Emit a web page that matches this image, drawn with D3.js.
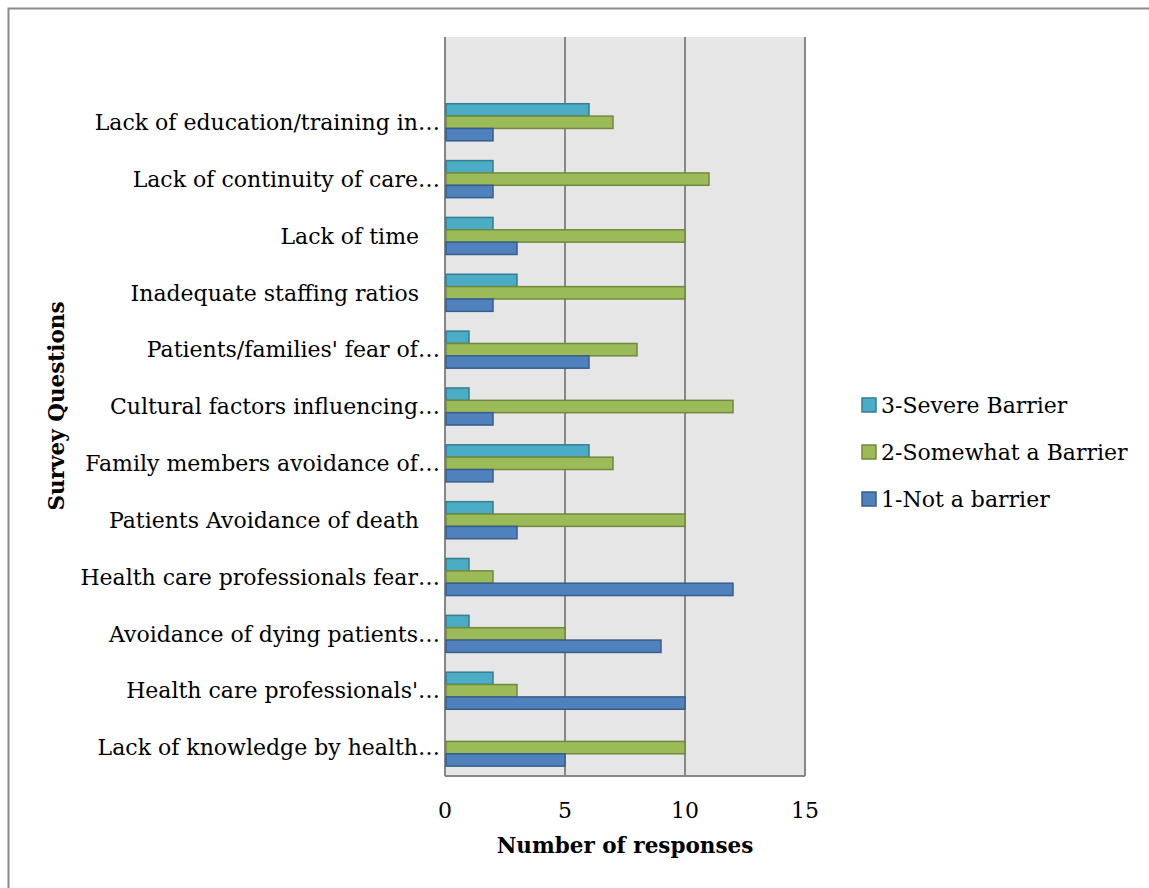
<!DOCTYPE html>
<html>
<head>
<meta charset="utf-8">
<script src="https://cdn.jsdelivr.net/npm/d3@7"></script>
<style>
  body { margin: 0; background: #fff; }
  svg text { font-family: 'DejaVu Serif', serif; fill: #000; white-space: pre; }
</style>
</head>
<body>
<svg id="chart" width="1149" height="888"></svg>
<script>
// categories top to bottom (blank slot at the top like the original sheet)
const categories = [
  '',
  'Lack of education/training in\u2026',
  'Lack of continuity of care\u2026',
  'Lack of time   ',
  'Inadequate staffing ratios   ',
  "Patients/families' fear of\u2026",
  'Cultural factors influencing\u2026',
  'Family members avoidance of\u2026',
  'Patients Avoidance of death   ',
  'Health care professionals fear\u2026',
  'Avoidance of dying patients\u2026',
  "Health care professionals'\u2026",
  'Lack of knowledge by health\u2026'
]
const seriesNames = ['3-Severe Barrier', '2-Somewhat a Barrier', '1-Not a barrier']
const severe   = [null, 6, 2, 2, 3, 1, 1, 6, 2, 1, 1, 2, 0]
const somewhat = [null, 7, 11, 10, 10, 8, 12, 7, 10, 2, 5, 3, 10]
const notBar   = [null, 2, 2, 3, 2, 6, 2, 2, 3, 12, 9, 10, 5]
const xTicks = [0, 5, 10, 15]

const fills = ['#4bacc6', '#9bbb59', '#4f81bd']
const strokes = ['#357d91', '#71893f', '#385d8a']

const svg = d3.select('#chart')
const plotLeft = 445, plotRight = 805, plotTop = 37, plotBottom = 776
const fontSize = 22

// outer frame
svg.append('rect')
  .attr('x', 8.5).attr('y', 8.5)
  .attr('width', 1160).attr('height', 900)
  .attr('fill', 'none')
  .attr('stroke', '#8a8a8a')
  .attr('stroke-width', 2)

const x = d3.scaleLinear().domain([0, 15]).range([plotLeft, plotRight])
const y = d3.scaleBand().domain(d3.range(categories.length)).range([plotTop, plotBottom]).padding(0)

svg.append('rect')
  .attr('x', plotLeft).attr('y', plotTop)
  .attr('width', plotRight - plotLeft).attr('height', plotBottom - plotTop)
  .attr('fill', '#e6e6e6')

// vertical gridlines
svg.append('g')
  .selectAll('line')
  .data(xTicks)
  .enter()
  .append('line')
  .attr('x1', d => x(d)).attr('x2', d => x(d))
  .attr('y1', plotTop).attr('y2', plotBottom)
  .attr('stroke', '#878787')
  .attr('stroke-width', 2)

svg.append('line')
  .attr('x1', plotLeft).attr('x2', plotRight)
  .attr('y1', plotBottom).attr('y2', plotBottom)
  .attr('stroke', '#878787')
  .attr('stroke-width', 2)

// bars
const inner = d3.scaleBand().domain(d3.range(3)).range([0, y.bandwidth()]).paddingOuter(0.8).paddingInner(0)
const series = [severe, somewhat, notBar]

series.forEach((vals, s) => {
  svg.append('g')
    .selectAll('rect')
    .data(vals.map((v, i) => ({ v, i })).filter(d => d.v !== null))
    .enter()
    .append('rect')
    .attr('x', x(0) + 1)
    .attr('y', d => y(d.i) + inner(s))
    .attr('width', d => Math.max(0, x(d.v) - x(0) - 1))
    .attr('height', inner.bandwidth())
    .attr('fill', fills[s])
    .attr('stroke', d => d.v > 0 ? strokes[s] : 'none')
    .attr('stroke-width', 1.5)
})

// category labels
svg.append('g')
  .selectAll('text')
  .data(categories)
  .enter()
  .append('text')
  .attr('x', plotLeft - 5)
  .attr('y', (d, i) => y(i) + y.bandwidth() / 2)
  .attr('dy', '0.35em')
  .attr('text-anchor', 'end')
  .style('font-size', fontSize + 'px')
  .text(d => d)

// x tick labels
svg.append('g')
  .selectAll('text')
  .data(xTicks)
  .enter()
  .append('text')
  .attr('x', d => x(d))
  .attr('y', 818)
  .attr('text-anchor', 'middle')
  .style('font-size', fontSize + 'px')
  .text(d => d)

svg.append('text')
  .attr('x', (plotLeft + plotRight) / 2)
  .attr('y', 853)
  .attr('text-anchor', 'middle')
  .style('font-size', '21.5px')
  .style('font-weight', 'bold')
  .text('Number of responses')

svg.append('text')
  .attr('transform', 'translate(64,406) rotate(-90)')
  .attr('text-anchor', 'middle')
  .style('font-size', '21.5px')
  .style('font-weight', 'bold')
  .text('Survey Questions')

// legend
const legend = svg.append('g')
  .selectAll('g')
  .data(seriesNames)
  .enter()
  .append('g')
  .attr('transform', (d, i) => `translate(862, ${398 + i * 47})`)

legend.append('rect')
  .attr('width', 14).attr('height', 14)
  .attr('fill', (d, i) => fills[i])
  .attr('stroke', (d, i) => strokes[i])
  .attr('stroke-width', 1.5)

legend.append('text')
  .attr('x', 19)
  .attr('y', 7)
  .attr('dy', '0.35em')
  .style('font-size', fontSize + 'px')
  .text(d => d)
</script>
</body>
</html>
